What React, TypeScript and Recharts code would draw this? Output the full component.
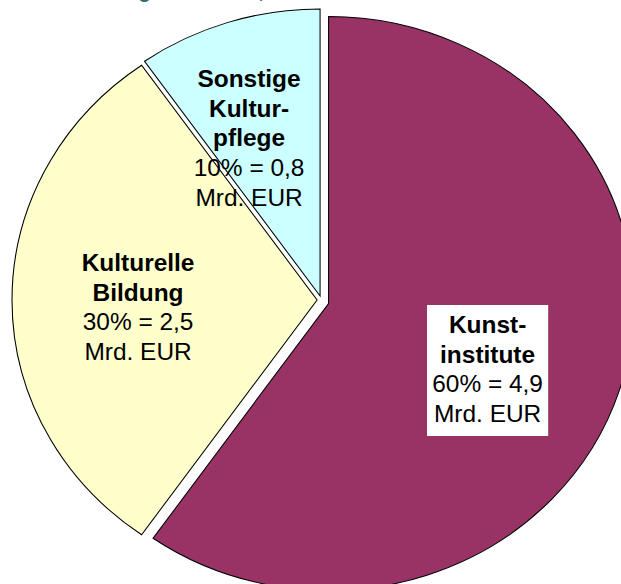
import { PieChart, Pie, Cell } from 'recharts';

const categories = ['Kunstinstitute', 'Kulturelle Bildung', 'Sonstige Kulturpflege'];
const values = [4.9, 2.5, 0.8];
const percents = [60, 30, 10];
const titleLines = [['Kunst-', 'institute'], ['Kulturelle', 'Bildung'], ['Sonstige', 'Kultur-', 'pflege']];
const colors = ['#993366', '#FFFFCC', '#CCFFFF'];

// the original pie is slightly wider than tall
const SX = 1.063;
const FONT = '"Liberation Sans", Arial, sans-serif';
const LINE = 29.7;

// centre of each exploded slice and where its label sits (chart units)
const layout = [
  { cx: 309.1, cy: 303.5, dx: 149.6, dy: 29.5, box: true },
  { cx: 298.3, cy: 300, dx: -168.4, dy: -29, box: false },
  { cx: 301.1, cy: 296, dx: -66.8, dy: -209, box: false },
];

const data = categories.map((name, i) => ({ name, value: values[i] }));

const fmt = (v: number) => v.toFixed(1).replace('.', ',');

const makeLabel = (slice: number) => (props: any) => {
  if (props.index !== slice) return null;
  const l = layout[slice];
  const x = props.cx + l.dx;
  const y = props.cy + l.dy;
  const lines = [...titleLines[slice], `${percents[slice]}% = ${fmt(values[slice])}`, 'Mrd. EUR'];
  const bold = titleLines[slice].length;
  return (
    <g>
      {l.box && <rect x={x - 57} y={y - 28} width={114} height={131} fill="#fff" />}
      {lines.map((t, i) => (
        <text
          key={i}
          x={x}
          y={y + i * LINE}
          textAnchor="middle"
          fontFamily={FONT}
          fontSize={23}
          fontWeight={i < bold ? 700 : 400}
          fill="#000"
        >
          {t}
        </text>
      ))}
    </g>
  );
};

export default function App() {
  return (
    <div style={{ position: 'absolute', left: 0, top: 0, width: 621, height: 584, overflow: 'hidden', background: '#fff' }}>
      {/* title sits above the cropped frame, only its descenders show */}
      <svg width={621} height={584} style={{ position: 'absolute', left: 0, top: 0 }}>
        <text x={264} y={-2.5} textAnchor="end" fontFamily={FONT} fontSize={20} fontWeight={700} fill="#2f6b6b">
          Kulturfinanzierung der Länder,
        </text>
      </svg>
      <div style={{ position: 'absolute', left: 0, top: 0, transform: `scaleX(${SX})`, transformOrigin: '0 0' }}>
        <PieChart width={600} height={584} margin={{ top: 0, right: 0, bottom: 0, left: 0 }}>
          {layout.map((l, p) => (
            <Pie
              key={p}
              data={data}
              dataKey="value"
              cx={l.cx}
              cy={l.cy}
              outerRadius={287}
              startAngle={90}
              endAngle={-270}
              label={makeLabel(p)}
              labelLine={false}
              isAnimationActive={false}
            >
              {data.map((_, i) => (
                <Cell
                  key={i}
                  fill={i === p ? colors[i] : 'none'}
                  stroke={i === p ? '#000' : 'none'}
                  strokeWidth={1}
                />
              ))}
            </Pie>
          ))}
        </PieChart>
      </div>
    </div>
  );
}
